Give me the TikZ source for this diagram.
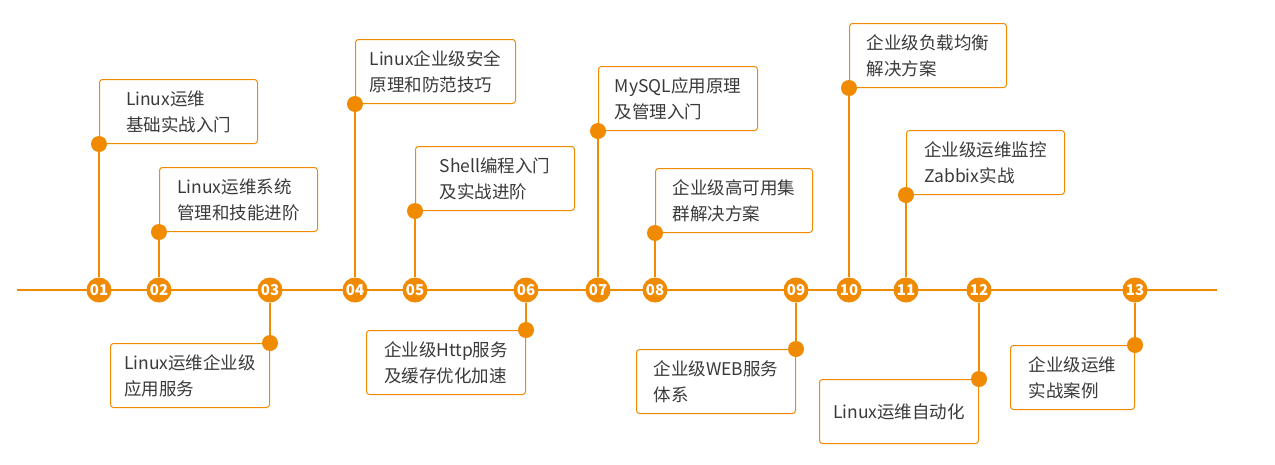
\documentclass[tikz,border=0pt]{standalone}
\usepackage{fontspec}
\newfontfamily\cjk{Noto Sans CJK SC}
\usetikzlibrary{positioning}
\definecolor{lineorange}{HTML}{F08A00}
\definecolor{textgray}{HTML}{3A3A3A}

\begin{document}
\begin{tikzpicture}[x=1pt,y=-1pt,
    num node/.style={circle,fill=lineorange,inner sep=0pt,minimum size=25pt,
                     text=white,font=\cjk\bfseries\fontsize{15}{15}\selectfont},
    dot node/.style={circle,fill=lineorange,inner sep=0pt,minimum size=16pt},
    topic box/.style={draw=lineorange,line width=1pt,rounded corners=3pt,fill=white,
                      minimum height=64pt,align=left,text=textgray,
                      font=\cjk\fontsize{17.5}{26}\selectfont}]

    \useasboundingbox (0,0) rectangle (1275,464);

    % main timeline
    \draw[lineorange,line width=2pt] (17,290) -- (1217,290);

    \foreach \n/\x/\y/\w/\pos/\txt in {
        01/99/144/158/south west/{Linux运维\\基础实战入门},
        02/159/232/158/south west/{Linux运维系统\\管理和技能进阶},
        03/270/343/159/north east/{Linux运维企业级\\应用服务},
        04/355/104/160/south west/{Linux企业级安全\\原理和防范技巧},
        05/415/211/159/south west/{Shell编程入门\\及实战进阶},
        06/526/330/159/north east/{企业级Http服务\\及缓存优化加速},
        07/598/131/159/south west/{MySQL应用原理\\及管理入门},
        08/655/233/157/south west/{企业级高可用集\\群解决方案},
        09/796/349/159/north east/{企业级WEB服务\\体系},
        10/849/88/157/south west/{企业级负载均衡\\解决方案},
        11/906/195/158/south west/{企业级运维监控\\Zabbix实战},
        12/979/379/159/north east/{Linux运维自动化},
        13/1135/345/124/north east/{企业级运维\\实战案例}}
    {
        \coordinate (d\n) at (\x,\y);
        \node[topic box,minimum width=\w pt,anchor=\pos] (b\n) at (d\n) {\txt};
        \node[num node] (n\n) at (\x,290) {\n};
        \draw[lineorange,line width=1.5pt] (d\n) -- (n\n);
        \node[dot node] (p\n) at (d\n) {};
    }
\end{tikzpicture}
\end{document}
